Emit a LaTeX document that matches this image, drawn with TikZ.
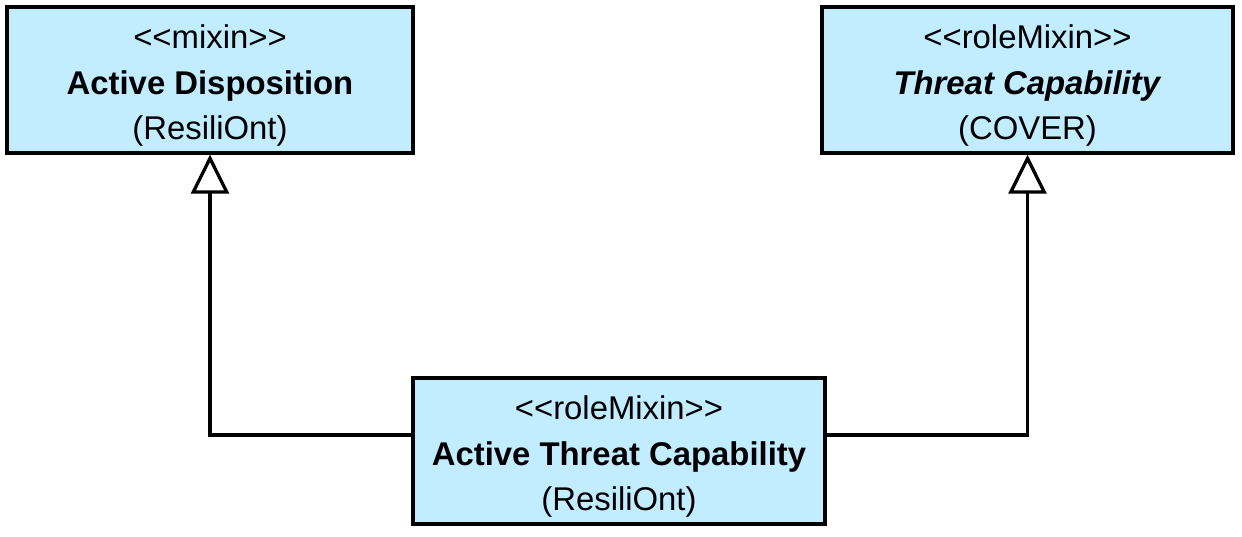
\documentclass[tikz,border=0pt]{standalone}
\usepackage{fontspec}
\setmainfont{Liberation Sans}
\usetikzlibrary{arrows.meta, positioning}
\definecolor{fondoClase}{HTML}{C2ECFF}
\newcommand{\estereo}[1]{\rule{0pt}{0.7cm}<{}<#1>{}>}

\begin{document}
\begin{tikzpicture}[
        cls/.style={draw=black, fill=fondoClase, line width=1.9pt, align=center,
            inner sep=0pt, minimum height=2.92cm, font=\fontsize{18.7}{26}\selectfont},
        gen/.style={-{Triangle[open, length=0.78cm, width=0.76cm]}, line width=1.9pt}
    ]
        \useasboundingbox (0,0) rectangle (24.84,10.74);
        \node[cls, minimum width=8.12cm] (disp) at (4.2,9.14) {\estereo{mixin}\\\textbf{Active Disposition}\\(ResiliOnt)};
        \node[cls, minimum width=8.22cm] (cap) at (20.55,9.14) {\estereo{roleMixin}\\\textbf{\textit{Threat Capability}}\\(COVER)};
        \node[cls, minimum width=8.24cm] (act) at (12.38,1.72) {\estereo{roleMixin}\\\textbf{Active Threat Capability}\\(ResiliOnt)};
        \draw[gen] ([yshift=0.32cm]act.west) -| (disp.south);
        \draw[gen] ([yshift=0.32cm]act.east) -| (cap.south);
    \end{tikzpicture}
\end{document}
